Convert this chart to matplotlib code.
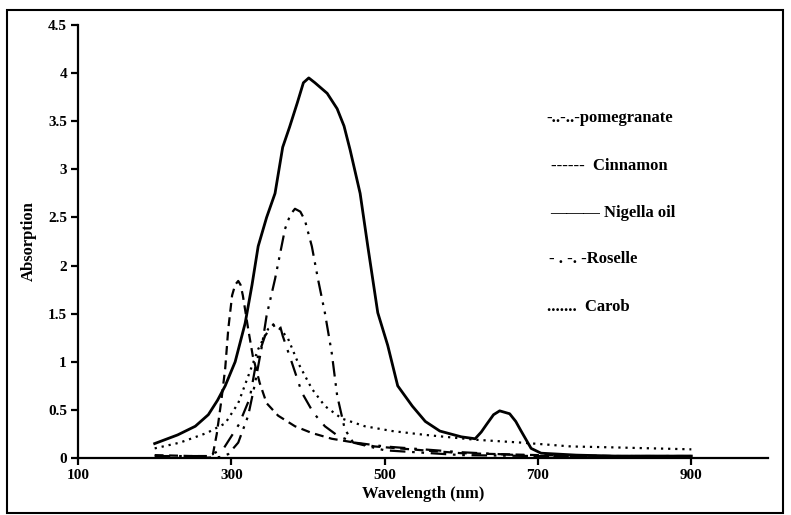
import matplotlib
matplotlib.use('Agg')
import matplotlib.pyplot as plt
from matplotlib.patches import Rectangle

plt.rcParams['font.family'] = ['Liberation Serif', 'DejaVu Serif']
plt.rcParams['font.weight'] = 'bold'

# Nigella oil (solid)
nig_x = [200, 230, 253, 270, 282, 292, 305, 318, 327, 335, 346, 357, 367, 376, 386, 394, 401,
         409, 425, 438, 447, 455, 468, 478, 491, 504, 517, 536, 553, 572, 600, 618, 626, 633,
         642, 650, 663, 671, 678, 691, 704, 750, 800, 900]
nig_y = [0.15, 0.24, 0.33, 0.45, 0.6, 0.75, 1.0, 1.4, 1.8, 2.2, 2.5, 2.75, 3.23, 3.44, 3.69,
         3.9, 3.95, 3.9, 3.79, 3.63, 3.45, 3.2, 2.75, 2.2, 1.51, 1.17, 0.75, 0.54, 0.38, 0.28,
         0.22, 0.2, 0.27, 0.35, 0.45, 0.49, 0.46, 0.38, 0.28, 0.1, 0.05, 0.03, 0.02, 0.02]

# Cinnamon (dashed)
cin_x = [200, 250, 270, 276, 281, 287, 292, 296, 301, 305, 309, 312, 315, 322, 328, 337, 346,
         361, 383, 405, 431, 461, 487, 550, 600, 700, 800, 900]
cin_y = [0.03, 0.02, 0.02, 0.04, 0.25, 0.6, 0.93, 1.34, 1.69, 1.8, 1.84, 1.8, 1.69, 1.34,
         1.06, 0.78, 0.57, 0.44, 0.33, 0.26, 0.2, 0.16, 0.12, 0.08, 0.05, 0.03, 0.02, 0.02]

# pomegranate (dash dot dot)
pom_x = [200, 260, 285, 296, 309, 322, 331, 340, 346, 357, 370, 377, 383, 390, 396, 405, 413,
         422, 431, 438, 448, 459, 500, 600, 700, 800, 900]
pom_y = [0.0, 0.0, 0.01, 0.04, 0.16, 0.44, 0.78, 1.17, 1.48, 1.86, 2.38, 2.53, 2.59, 2.56,
         2.47, 2.2, 1.86, 1.51, 1.09, 0.65, 0.3, 0.16, 0.08, 0.03, 0.02, 0.02, 0.02]

# Roselle (dash dot)
ros_x = [200, 270, 290, 310, 324, 331, 335, 344, 352, 356, 360, 364, 367, 379, 392, 407, 422,
         439, 461, 500, 600, 700, 800, 900]
ros_y = [0.02, 0.02, 0.1, 0.35, 0.62, 0.93, 1.06, 1.27, 1.36, 1.4, 1.41, 1.36, 1.27, 0.99,
         0.68, 0.47, 0.33, 0.23, 0.16, 0.12, 0.06, 0.02, 0.02, 0.02]

# Carob (dotted)
car_x = [200, 233, 268, 292, 309, 322, 335, 348, 357, 365, 374, 387, 405, 422, 444, 474, 510,
         553, 618, 678, 743, 800, 900]
car_y = [0.1, 0.16, 0.26, 0.36, 0.57, 0.85, 1.13, 1.34, 1.38, 1.33, 1.24, 0.99, 0.72, 0.54,
         0.41, 0.33, 0.28, 0.24, 0.19, 0.16, 0.12, 0.11, 0.09]

x_ticks = [100, 300, 500, 700, 900]
y_ticks = [0, 0.5, 1, 1.5, 2, 2.5, 3, 3.5, 4, 4.5]
y_labels = ['0', '0.5', '1', '1.5', '2', '2.5', '3', '3.5', '4', '4.5']

fig = plt.figure(figsize=(7.91, 5.15), dpi=100)
ax = fig.add_axes([78 / 791, 57 / 515, 690 / 791, 433 / 515])

ax.plot(nig_x, nig_y, color='black', lw=2.0, ls='-')
ax.plot(cin_x, cin_y, color='black', lw=1.6, ls=(0, (4, 2.5)))
ax.plot(pom_x, pom_y, color='black', lw=1.6, ls=(0, (7, 3, 1.2, 3, 1.2, 3)))
ax.plot(ros_x, ros_y, color='black', lw=1.6, ls=(0, (7, 4, 1.2, 4)))
ax.plot(car_x, car_y, color='black', lw=1.6, ls=(0, (1, 2.2)))

ax.set_xlim(100, 1000)
ax.set_ylim(0, 4.5)
ax.set_xticks(x_ticks)
ax.set_yticks(y_ticks)
ax.set_yticklabels(y_labels)
ax.spines['top'].set_visible(False)
ax.spines['right'].set_visible(False)
ax.spines['left'].set_linewidth(1.6)
ax.spines['bottom'].set_linewidth(1.6)
ax.tick_params(direction='out', length=5, width=1.6, labelsize=11, pad=3)
for lab in ax.get_xticklabels() + ax.get_yticklabels():
    lab.set_fontweight('bold')

ax.set_xlabel('Wavelength (nm)', fontsize=12, fontweight='bold', labelpad=3)
ax.set_ylabel('Absorption', fontsize=12, fontweight='bold', labelpad=8)

# legend written as text, like the reference
leg_items = ['-..-..-pomegranate', '------  Cinnamon', '\u2014\u2014\u2014 Nigella oil',
             '- . -. -Roselle', '.......  Carob']
leg_x = [546, 551, 550, 549, 547]
leg_y = [118, 166, 213, 259, 307]
for t, px, py in zip(leg_items, leg_x, leg_y):
    fig.text(px / 791, 1 - py / 515, t, fontsize=12, fontweight='bold',
             ha='left', va='center')

fig.patches.append(Rectangle((7 / 791, 2 / 515), 776 / 791, 503 / 515,
                             transform=fig.transFigure, fill=False,
                             edgecolor='black', lw=1.5))

fig.savefig('out.png', dpi=100)
